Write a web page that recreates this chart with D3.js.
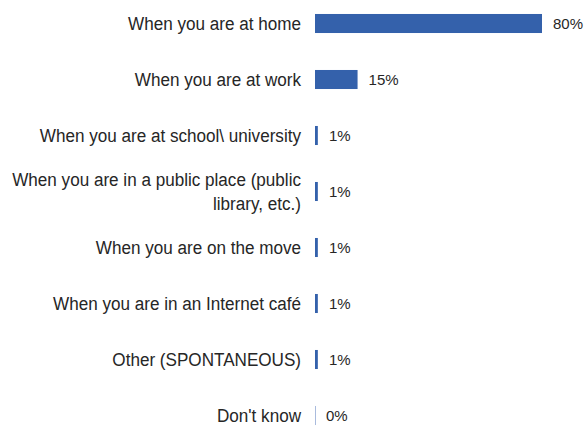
<!DOCTYPE html>
<html>
<head>
<meta charset="utf-8">
<script src="https://cdn.jsdelivr.net/npm/d3@7"></script>
<style>
  body { margin: 0; background: #fff; }
  svg { display: block; }
</style>
</head>
<body>
<div id="ChartDiv"></div>
<script>
// categories (multi-line labels split with "|")
const categories = [
    "When you are at home",
    "When you are at work",
    "When you are at school\\ university",
    "When you are in a public place (public|library, etc.)",
    "When you are on the move",
    "When you are in an Internet café",
    "Other (SPONTANEOUS)",
    "Don't know"
];
const values = [80, 15, 1, 1, 1, 1, 1, 0];

function createChart() {
    const width = 584, height = 428;
    const x0 = 315;

    const svgEl = d3.select("#ChartDiv")
        .append("svg")
        .attr("width", width)
        .attr("height", height);

    const x = d3.scaleLinear().domain([0, 80]).range([x0, 542]);
    const y = d3.scaleBand()
        .domain(categories)
        .range([-4.5, 443.5])
        .paddingInner(0.66)
        .paddingOuter(0.33);

    const rows = svgEl.selectAll("g.row")
        .data(categories)
        .join("g")
        .attr("class", "row");

    // bars
    rows.append("rect")
        .attr("x", x0)
        .attr("y", d => y(d))
        .attr("width", (d, i) => values[i] === 0 ? 1 : x(values[i]) - x0)
        .attr("height", y.bandwidth())
        .attr("fill", (d, i) => values[i] === 0 ? "#a9bbdd" : "#3461ab");

    // value labels
    rows.append("text")
        .attr("x", (d, i) => values[i] === 0 ? x0 + 11 : Math.max(x(values[i]), x0 + 3) + 11)
        .attr("y", d => y(d) + y.bandwidth() / 2)
        .attr("dy", "0.35em")
        .attr("font-family", "Liberation Sans, Arial, sans-serif")
        .attr("font-size", 15)
        .attr("fill", "#262626")
        .text((d, i) => values[i] + "%");

    // category labels (slightly condensed like the original)
    rows.each(function(d) {
        const lines = d.split("|");
        const cy = y(d) + y.bandwidth() / 2;
        const lh = 24;
        const t = d3.select(this).append("text")
            .attr("transform", `translate(301,${cy}) scale(0.9,1)`)
            .attr("text-anchor", "end")
            .attr("font-family", "Liberation Sans, Arial, sans-serif")
            .attr("font-size", 19)
            .attr("fill", "#262626");
        lines.forEach((line, k) => {
            t.append("tspan")
                .attr("x", 0)
                .attr("y", (k - (lines.length - 1) / 2) * lh)
                .attr("dy", "0.35em")
                .text(line);
        });
    });
}

createChart();
</script>
</body>
</html>
